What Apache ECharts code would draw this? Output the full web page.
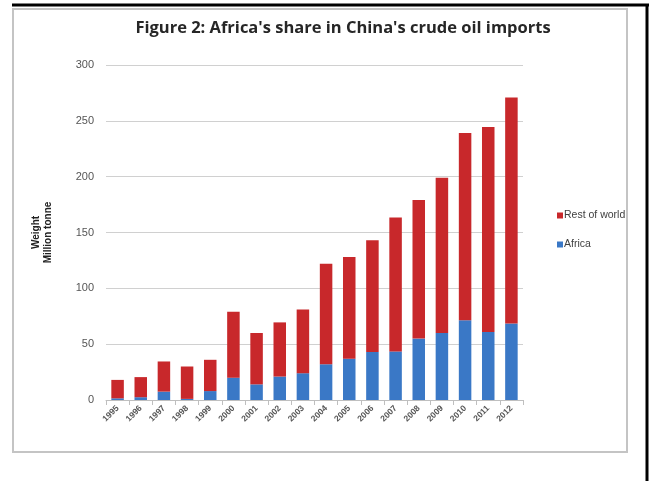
<!DOCTYPE html>
<html>
<head>
<meta charset="utf-8">
<script src="https://cdn.jsdelivr.net/npm/echarts@6/dist/echarts.min.js"></script>
<style>
html, body { margin: 0; padding: 0; background: #fff; }
#chart { width: 649px; height: 481px; }
</style>
</head>
<body>
<div id="chart"></div>
<script>
// years
var years = ['1995', '1996', '1997', '1998', '1999', '2000', '2001', '2002', '2003',
    '2004', '2005', '2006', '2007', '2008', '2009', '2010', '2011', '2012'];
// Africa, million tonne
var africa = [1.5, 2.5, 7.5, 1, 8, 20, 14, 21, 24, 32, 37, 43, 43.5, 55, 60, 71.5, 61, 68.5];
// total imports, million tonne
var totals = [18, 20.5, 34.5, 30, 36, 79, 60, 69.5, 81, 122, 128, 143, 163.5, 179, 199, 239, 244.5, 271];
var yTicks = [0, 50, 100, 150, 200, 250, 300];

var restOfWorld = [];
for (var i = 0; i < totals.length; i++) {
    restOfWorld.push(+(totals[i] - africa[i]).toFixed(1));
}

var chart = echarts.init(document.getElementById('chart'));
var option = {
    backgroundColor: '#fff',
    animation: false,
    title: {
        text: "Figure 2: Africa's share in China's crude oil imports",
        left: 338,
        top: 15,
        textAlign: 'center',
        textStyle: { fontFamily: 'Open Sans', fontSize: 16.5, fontWeight: 'bold', color: '#262626' }
    },
    graphic: [
        // outer frame lines
        { type: 'line', shape: { x1: 12, y1: 5, x2: 649, y2: 5 }, style: { stroke: '#000', lineWidth: 3 } },
        { type: 'line', shape: { x1: 647, y1: 4, x2: 647, y2: 481 }, style: { stroke: '#000', lineWidth: 3 } },
        // chart box
        { type: 'rect', shape: { x: 13, y: 9, width: 614, height: 443 }, style: { fill: 'none', stroke: '#c4c4c4', lineWidth: 2 } }
    ],
    legend: {
        orient: 'vertical',
        left: 552,
        top: 205,
        itemWidth: 6,
        itemHeight: 6,
        itemGap: 18,
        icon: 'rect',
        data: ['Rest of world', 'Africa'],
        textStyle: { fontFamily: 'Liberation Sans', fontSize: 10.5, color: '#404040', padding: [0, 0, 0, -4] }
    },
    grid: { left: 106, right: 126, top: 65, bottom: 81 },
    xAxis: {
        type: 'category',
        data: years,
        axisLine: { lineStyle: { color: '#bfbfbf' } },
        axisTick: { show: true, lineStyle: { color: '#bfbfbf' } },
        axisLabel: {
            rotate: 45, fontSize: 8.5, fontWeight: 'bold', color: '#555', margin: 7,
            fontFamily: 'Liberation Sans', interval: 0
        }
    },
    yAxis: {
        type: 'value',
        min: 0,
        max: 300,
        interval: 50,
        name: 'Weight\nMillion tonne',
        nameLocation: 'middle',
        nameGap: 52,
        nameTextStyle: { fontFamily: 'Liberation Sans', fontSize: 10, fontWeight: 'bold', color: '#222', lineHeight: 12 },
        axisLine: { show: false },
        axisTick: { show: false },
        axisLabel: {
            fontSize: 11, color: '#555', margin: 12, fontFamily: 'Liberation Sans',
            formatter: function (v) { return yTicks.indexOf(v) >= 0 ? v : ''; }
        },
        splitLine: { lineStyle: { color: '#d0d0d0' } }
    },
    series: [
        {
            name: 'Africa',
            type: 'bar',
            stack: 'total',
            barWidth: '54%',
            data: africa,
            itemStyle: { color: '#3a78c6' }
        },
        {
            name: 'Rest of world',
            type: 'bar',
            stack: 'total',
            data: restOfWorld,
            itemStyle: { color: '#c8282b' }
        }
    ]
};
chart.setOption(option);
</script>
</body>
</html>
